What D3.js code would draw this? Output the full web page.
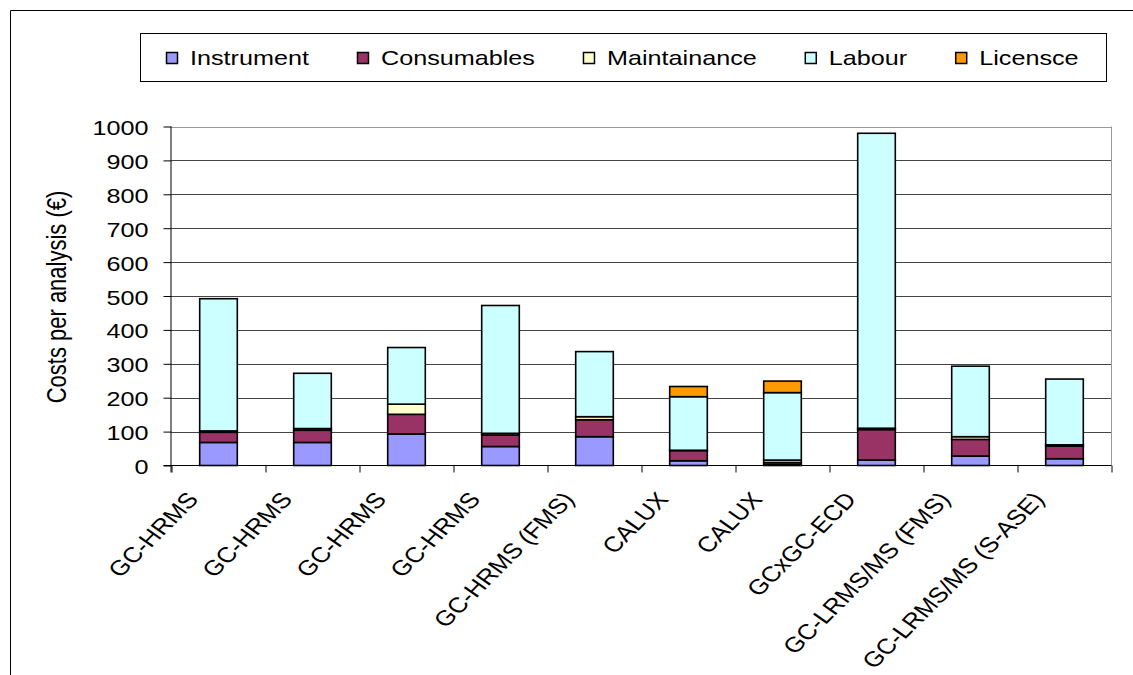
<!DOCTYPE html>
<html><head><meta charset="utf-8">
<script src="https://cdn.jsdelivr.net/npm/d3@7"></script>
<style>body{margin:0;background:#fff}svg{display:block;font-family:"Liberation Sans",Arial,sans-serif}</style>
</head><body><svg id="c" width="1133" height="675"></svg>
<script>
const categories = ["GC-HRMS","GC-HRMS","GC-HRMS","GC-HRMS","GC-HRMS (FMS)","CALUX","CALUX","GCxGC-ECD","GC-LRMS/MS (FMS)","GC-LRMS/MS (S-ASE)"];
const seriesNames = ["Instrument","Consumables","Maintainance","Labour","Licensce"];
const instrument  = [68, 68, 93, 56, 85, 14, 3, 16, 28, 20];
const consumables = [30, 36, 58, 34, 50, 30, 6, 90, 49, 37];
const maintenance = [4, 5, 30, 5, 9, 1, 7, 4, 8, 4];
const labour      = [390, 163, 167, 377, 192, 158, 199, 870, 208, 194];
const licence     = [0, 0, 0, 0, 0, 30, 34, 0, 0, 0];
const yTicks = [0,100,200,300,400,500,600,700,800,900,1000];
const colors = ["#9999FF","#993366","#FFFFCC","#CCFFFF","#FF9900"];

const SX = 1.26; // horizontal text stretch seen in the reference
const svg = d3.select("#c");
svg.append("path").attr("d","M10.5,675 V10.5 H1133").attr("fill","none").attr("stroke","#000").attr("stroke-width",1);

const L=171.5, R=1111.5, T=126.5, B=465.5;
const x = d3.scaleBand().domain(d3.range(categories.length)).range([L,R]).paddingInner(0.6).paddingOuter(0.3);
const xb = d3.scaleBand().domain(d3.range(categories.length)).range([L,R]);
const y = d3.scaleLinear().domain([0,1000]).range([B,T]);

svg.append("g").selectAll("line").data(yTicks.filter(d=>d>0)).join("line")
  .attr("x1",L).attr("x2",R).attr("y1",d=>Math.round(y(d))+0.5).attr("y2",d=>Math.round(y(d))+0.5)
  .attr("stroke",d=>d===1000?"#999":"#444").attr("stroke-width",1);
svg.append("line").attr("x1",R).attr("x2",R).attr("y1",T).attr("y2",B).attr("stroke","#999");

const rows = categories.map((c,i)=>({i, Instrument:instrument[i], Consumables:consumables[i], Maintainance:maintenance[i], Labour:labour[i], Licensce:licence[i]}));
const stack = d3.stack().keys(seriesNames)(rows);
svg.append("g").selectAll("g").data(stack).join("g").attr("fill",(d,k)=>colors[k])
  .selectAll("rect").data(d=>d.filter(p=>p[1]-p[0]>0)).join("rect")
  .attr("x",d=>x(d.data.i)).attr("width",x.bandwidth())
  .attr("y",d=>y(d[1])).attr("height",d=>y(d[0])-y(d[1]))
  .attr("stroke","#000").attr("stroke-width",1.6);

// y axis
const ya = svg.append("g").attr("transform",`translate(${L},0)`)
  .call(d3.axisLeft(y).tickValues(yTicks).tickSize(8).tickFormat(d3.format("d")));
ya.select(".domain").attr("stroke","#000").attr("d",`M-0.5,${B+7}V${T}`);
ya.selectAll(".tick line").attr("stroke","#000");
ya.selectAll("text").attr("x",0).attr("dy","0.4em").attr("transform",`translate(-23,0) scale(${SX},1)`)
  .attr("font-size",20).attr("font-family","Liberation Sans, Arial, sans-serif").attr("fill","#000");

// x axis
const xa = svg.append("g").attr("transform",`translate(0,${B})`);
xa.append("line").attr("x1",L-8).attr("x2",R).attr("y1",0).attr("y2",0).attr("stroke","#000");
xa.selectAll("line.t").data(d3.range(categories.length+1)).join("line").attr("class","t")
  .attr("x1",i=>Math.round(L+i*xb.step())).attr("x2",i=>Math.round(L+i*xb.step()))
  .attr("y1",0).attr("y2",7).attr("stroke","#000");
xa.selectAll("text").data(categories).join("text")
  .attr("transform",(d,i)=>`translate(${xb(i)+xb.bandwidth()/2-19},${34.5}) scale(1.2,1) rotate(-50)`)
  .attr("text-anchor","end").attr("font-size",21.5).attr("fill","#000").text(d=>d);

// y label
svg.append("text").attr("transform",`translate(66,297) scale(${SX},1) rotate(-90)`).attr("text-anchor","middle")
  .attr("font-size",22).text("Costs per analysis (€)");

// legend
svg.append("rect").attr("x",140.5).attr("y",33.5).attr("width",966).attr("height",48).attr("fill","#fff").attr("stroke","#000");
let lx = 190;
seriesNames.forEach((s,k)=>{
  svg.append("rect").attr("x",lx-23.5).attr("y",52.5).attr("width",11).attr("height",11).attr("fill",colors[k]).attr("stroke","#000").attr("stroke-width",1.5);
  const t = svg.append("text").attr("transform",`translate(${lx},65) scale(${SX},1)`).attr("font-size",20).text(s);
  lx += t.node().getComputedTextLength()*SX + 72;
});
</script></body></html>
